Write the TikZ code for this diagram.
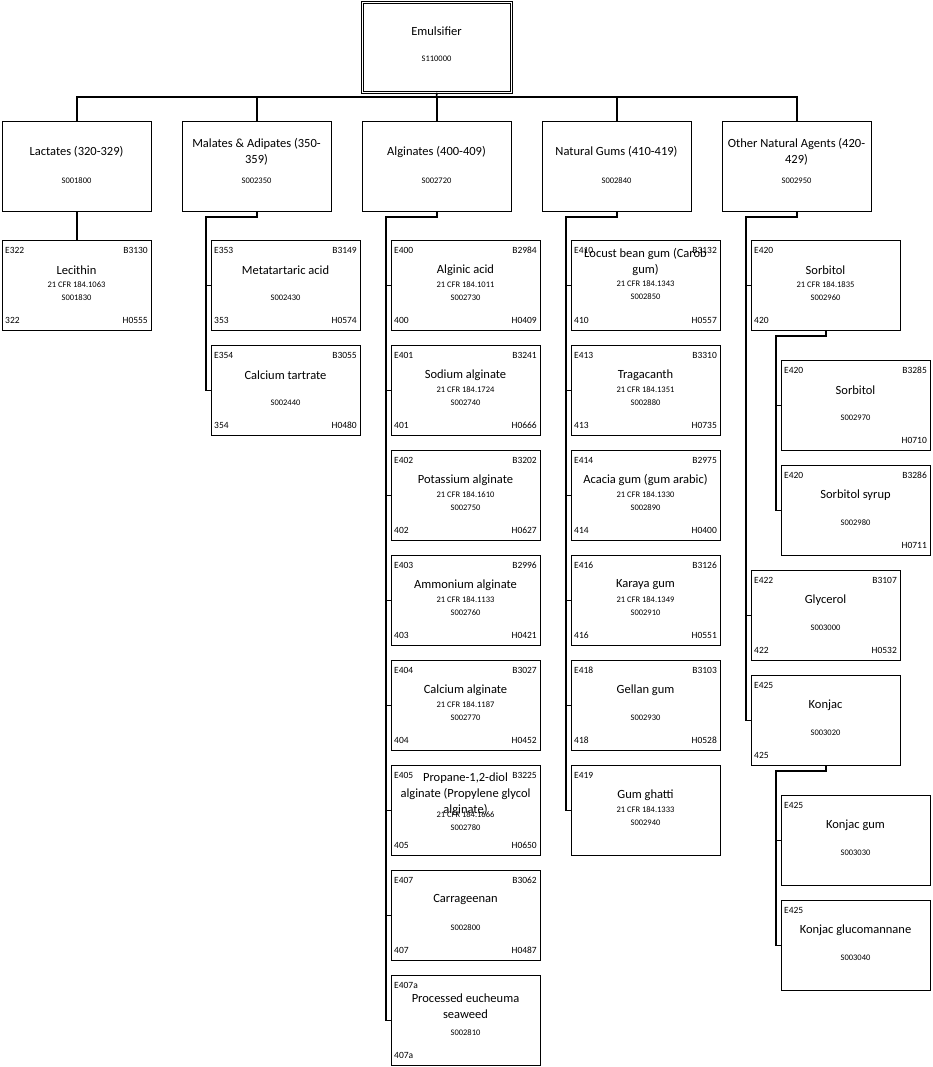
\documentclass[tikz,border=0pt]{standalone}
\usepackage{fontspec}
\setmainfont{Carlito}
\begin{document}
\begin{tikzpicture}[x=1pt,y=-1pt,
  cb/.style={draw,line width=0.8pt,anchor=north west,minimum width=149pt,minimum height=90pt,inner sep=0},
  tt/.style={font=\fontsize{12.5}{16}\selectfont,align=center,inner sep=0},
  sm/.style={font=\fontsize{8.5}{9}\selectfont,inner sep=0},
  cd/.style={font=\fontsize{9.5}{11}\selectfont,inner sep=0},
  cn/.style={line width=1.6pt}]
\useasboundingbox (0,0) rectangle (932,1067);
\def\tyo{30}
\newcommand\cbox[9]{\def\cbn{#1}\def\cbx{#2}\def\cby{#3}%
  \node[cb] (#1) at (#2,#3) {};
  \node[cd,anchor=west] (#1tl) at (#2+3,#3+10) {#4};
  \node[cd,anchor=east] (#1tr) at (#2+146,#3+10) {#5};
  \node[tt] (#1t) at (#2+74.5,#3+\tyo) {#6};
  \node[sm] (#1c) at (#2+74.5,#3+45) {#7};
  \node[sm] (#1s) at (#2+74.5,#3+58) {#8};
  \node[cd,anchor=west] (#1bl) at (#2+3,#3+80) {#9};
  \cbfinish}
\newcommand\cbfinish[1]{\node[cd,anchor=east] (\cbn br) at (\cbx+146,\cby+80) {#1};}
\newcommand\pbox[5]{%
  \node[cb] (#1) at (#2,#3) {};
  \node[tt] (#1t) at (#2+74.5,#3+31) {#4};
  \node[sm] (#1s) at (#2+74.5,#3+60) {#5};}
% top
\node[cb,double,double distance=1.5pt] (root) at (362,2) {};
\node[tt] (roott) at (436.5,31) {Emulsifier};
\node[sm] (roots) at (436.5,59) {S110000};
\pbox{p1}{2}{121}{Lactates (320-329)}{S001800}
\pbox{p2}{182}{121}{Malates \& Adipates (350-\\359)}{S002350}
\pbox{p3}{362}{121}{Alginates (400-409)}{S002720}
\pbox{p4}{542}{121}{Natural Gums (410-419)}{S002840}
\pbox{p5}{722}{121}{Other Natural Agents (420-\\429)}{S002950}
\coordinate (rj) at (436.5,97);
\draw[cn] (root.south) -- (rj);
\draw[cn] (p1.north) |- (rj) -| (p5.north);
\foreach \p in {p2,p3,p4} \draw[cn] (\p.north) -- (\p.north |- rj);
% lactates
\cbox{a1}{2}{240}{E322}{B3130}{Lecithin}{21 CFR 184.1063}{S001830}{322}{H0555}
\draw[cn] (p1.south) -- (a1.north);
% malates
\cbox{b1}{211}{240}{E353}{B3149}{Metatartaric acid}{}{S002430}{353}{H0574}
\cbox{b2}{211}{345}{E354}{B3055}{Calcium tartrate}{}{S002440}{354}{H0480}
\coordinate (b0) at (206,216);
\draw[cn] (p2.south) -- ++(0,5) -| (b0 |- b2.west) -- (b2.west);
\draw[cn] (b0 |- b1.west) -- (b1.west);
% alginates
\cbox{c1}{391}{240}{E400}{B2984}{Alginic acid}{21 CFR 184.1011}{S002730}{400}{H0409}
\cbox{c2}{391}{345}{E401}{B3241}{Sodium alginate}{21 CFR 184.1724}{S002740}{401}{H0666}
\cbox{c3}{391}{450}{E402}{B3202}{Potassium alginate}{21 CFR 184.1610}{S002750}{402}{H0627}
\cbox{c4}{391}{555}{E403}{B2996}{Ammonium alginate}{21 CFR 184.1133}{S002760}{403}{H0421}
\cbox{c5}{391}{660}{E404}{B3027}{Calcium alginate}{21 CFR 184.1187}{S002770}{404}{H0452}
\def\tyo{29}
\cbox{c6}{391}{765}{E405}{B3225}{Propane-1,2-diol\\alginate (Propylene glycol\\alginate)}{\raisebox{-15pt}{21 CFR 184.1666}}{\raisebox{-16pt}{S002780}}{405}{H0650}
\def\tyo{30}
\cbox{c7}{391}{870}{E407}{B3062}{Carrageenan}{}{S002800}{407}{H0487}
\def\tyo{31}
\cbox{c8}{391}{975}{E407a}{}{Processed eucheuma\\seaweed}{}{\raisebox{-5pt}{S002810}}{407a}{}
\draw[cn] (p3.south) -- ++(0,5) -| (386,0 |- c8.west) -- (c8.west);
\foreach \c in {c1,c2,c3,c4,c5,c6,c7} \draw[cn] (386,0 |- \c.west) -- (\c.west);
% natural gums
\def\tyo{22}
\cbox{d1}{571}{240}{E410}{B3132}{Locust bean gum (Carob\\gum)}{\raisebox{3pt}{21 CFR 184.1343}}{\raisebox{3pt}{S002850}}{410}{H0557}
\def\tyo{30}
\cbox{d2}{571}{345}{E413}{B3310}{Tragacanth}{21 CFR 184.1351}{S002880}{413}{H0735}
\cbox{d3}{571}{450}{E414}{B2975}{Acacia gum (gum arabic)}{21 CFR 184.1330}{S002890}{414}{H0400}
\cbox{d4}{571}{555}{E416}{B3126}{Karaya gum}{21 CFR 184.1349}{S002910}{416}{H0551}
\cbox{d5}{571}{660}{E418}{B3103}{Gellan gum}{}{S002930}{418}{H0528}
\cbox{d6}{571}{765}{E419}{}{Gum ghatti}{21 CFR 184.1333}{S002940}{}{}
\draw[cn] (p4.south) -- ++(0,5) -| (566,0 |- d6.west) -- (d6.west);
\foreach \c in {d1,d2,d3,d4,d5} \draw[cn] (566,0 |- \c.west) -- (\c.west);
% other
\cbox{e1}{751}{240}{E420}{}{Sorbitol}{21 CFR 184.1835}{S002960}{420}{}
\cbox{e2}{781}{360}{E420}{B3285}{Sorbitol}{}{\raisebox{-2pt}{S002970}}{}{H0710}
\cbox{e3}{781}{465}{E420}{B3286}{Sorbitol syrup}{}{\raisebox{-2pt}{S002980}}{}{H0711}
\cbox{e4}{751}{570}{E422}{B3107}{Glycerol}{}{S003000}{422}{H0532}
\cbox{e5}{751}{675}{E425}{}{Konjac}{}{S003020}{425}{}
\cbox{e6}{781}{795}{E425}{}{Konjac gum}{}{\raisebox{-2pt}{S003030}}{}{}
\cbox{e7}{781}{900}{E425}{}{Konjac glucomannane}{}{\raisebox{-2pt}{S003040}}{}{}
\draw[cn] (p5.south) -- ++(0,5) -| (746,0 |- e5.west) -- (e5.west);
\foreach \c in {e1,e4} \draw[cn] (746,0 |- \c.west) -- (\c.west);
\draw[cn] (e1.south) -- ++(0,5) -| (776,0 |- e3.west) -- (e3.west);
\draw[cn] (776,0 |- e2.west) -- (e2.west);
\draw[cn] (e5.south) -- ++(0,5) -| (776,0 |- e7.west) -- (e7.west);
\draw[cn] (776,0 |- e6.west) -- (e6.west);
\end{tikzpicture}
\end{document}
